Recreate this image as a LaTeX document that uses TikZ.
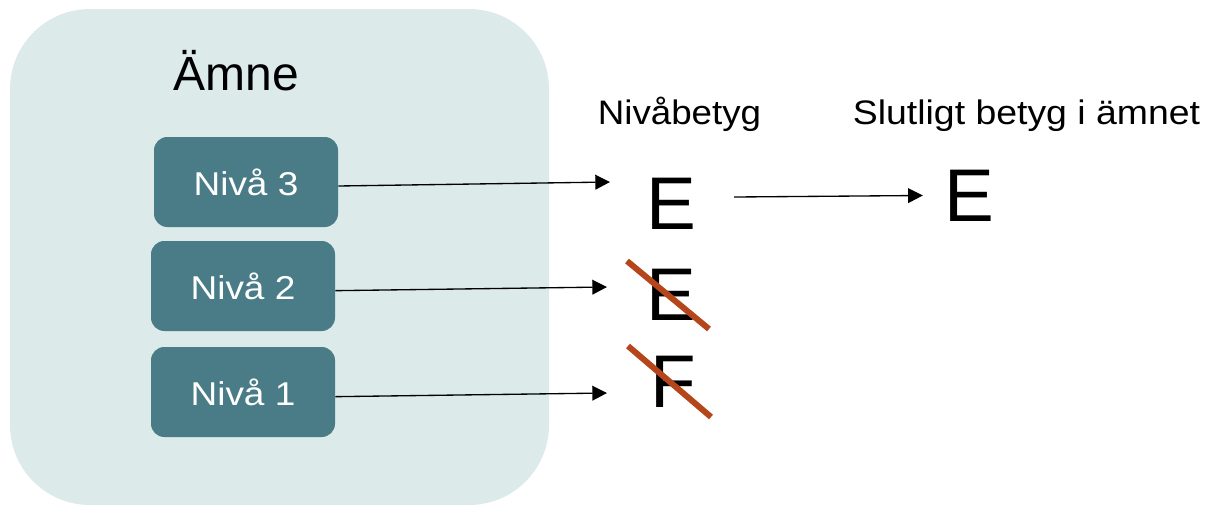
\documentclass[tikz,border=0pt]{standalone}
\usepackage{fontspec,graphicx}
\setmainfont{Liberation Sans}
\usetikzlibrary{arrows.meta}
\definecolor{amnebg}{HTML}{DCEAEA}
\definecolor{nivafill}{HTML}{4A7C87}
\definecolor{strikered}{HTML}{B5451B}
\newcommand{\wide}[2][1.1]{\scalebox{#1}[1]{#2}}

\begin{document}
\begin{tikzpicture}[x=0.75pt,y=-0.75pt,
    niva/.style={fill=nivafill,rounded corners=10pt,text=white,minimum width=138pt,minimum height=67.5pt,inner sep=0pt,font=\fontsize{24.75}{28}\selectfont},
    grade/.style={anchor=base,inner sep=0pt,font=\fontsize{56}{60}\selectfont},
    head/.style={anchor=base,inner sep=0pt,font=\fontsize{25.5}{30}\selectfont},
    arr/.style={-{Triangle[length=11pt,width=11pt]},line width=1pt},
    strike/.style={strikered,line width=4.5pt}]
    \useasboundingbox (0,0) rectangle (1206,507);
    \fill[amnebg,rounded corners=60pt] (10,9) rectangle (549,505);
    \node[head,font=\fontsize{36}{40}\selectfont] (amne) at (236.5,90) {Ämne};
    \node[niva] (n3) at (246,182) {\wide[1.12]{Nivå 3}};
    \node[niva] (n2) at (243,286) {\wide[1.12]{Nivå 2}};
    \node[niva] (n1) at (243,392) {\wide[1.12]{Nivå 1}};
    \node[head] (nbet) at (679.5,124) {\wide[1.08]{Nivåbetyg}};
    \node[head] (slut) at (1026.5,124) {\wide[1.1]{Slutligt betyg i ämnet}};
    \node[grade] (e3) at (671,229) {E};
    \node[grade] (e2) at (671,320) {E};
    \node[grade] (f1) at (673,407) {F};
    \node[grade] (fin) at (969,221) {E};
    \coordinate (t3) at (610,182);
    \coordinate (t2) at (607,287);
    \coordinate (t1) at (607,393);
    \draw[arr] ([yshift=-3pt]n3.east) -- (t3);
    \draw[arr] ([yshift=-3.5pt]n2.east) -- (t2);
    \draw[arr] ([yshift=-3.5pt]n1.east) -- (t1);
    \draw[arr,shorten <=28.5pt,shorten >=15.75pt] ([yshift=4.5pt]e3.east) -- (fin.west);
    \draw[strike] (627,261) -- (709,329);
    \draw[strike] (628,346) -- (711,417);
\end{tikzpicture}
\end{document}
